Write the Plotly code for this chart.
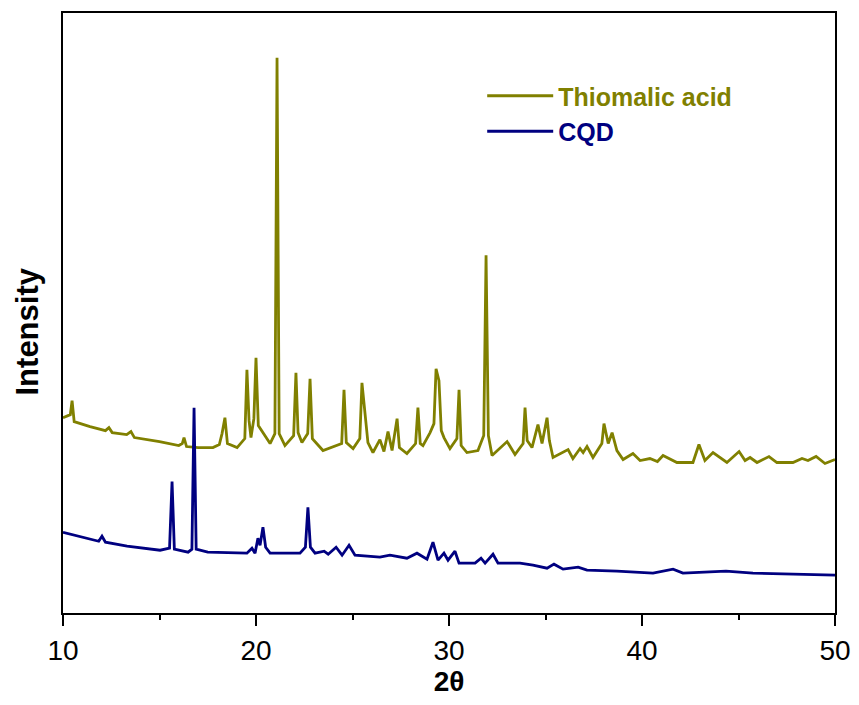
import plotly.graph_objects as go

# Thiomalic acid XRD trace (2θ, intensity a.u.)
thio_2theta = [10.00, 10.38, 10.47, 10.58, 11.40, 12.20, 12.38, 12.55, 13.30, 13.52, 13.70,
               15.00, 16.00, 16.18, 16.27, 16.40, 17.00, 17.77, 18.10, 18.24, 18.39, 18.52, 19.02,
               19.42, 19.53, 19.64, 19.74, 19.89, 20.00, 20.12, 20.73, 20.98, 21.09, 21.20,
               21.50, 21.95, 22.07, 22.18, 22.38, 22.68, 22.80, 22.92, 23.47, 24.44, 24.56,
               24.68, 25.03, 25.38, 25.49, 25.65, 25.80, 26.06, 26.42, 26.63, 26.84, 27.05,
               27.31, 27.43, 27.82, 28.27, 28.39, 28.51, 28.65, 29.02, 29.22, 29.33, 29.48,
               29.60, 29.74, 30.05, 30.41, 30.52, 30.63, 30.93, 31.50, 31.80, 31.92, 32.04,
               32.23, 33.01, 33.42, 33.84, 33.94, 34.05, 34.30, 34.61, 34.82, 35.08, 35.20,
               35.39, 36.17, 36.42, 36.79, 36.95, 37.15, 37.46, 37.92, 38.03, 38.25, 38.45,
               38.70, 39.02, 39.53, 39.90, 40.41, 40.80, 41.09, 41.81, 42.64, 42.95, 43.26,
               43.68, 44.40, 45.03, 45.34, 45.60, 45.96, 46.58, 46.99, 47.82, 48.29, 48.60,
               49.02, 49.48, 50.00]
thio_intensity = [196, 199, 213, 192, 187, 183, 186, 181, 179, 182, 176,
                  172, 168, 170, 176, 167, 166, 166, 169, 180, 196, 170, 166,
                  175, 244, 193, 176, 195, 256, 188, 170, 180, 557, 180,
                  168, 178, 241, 181, 171, 180, 235, 175, 163, 170, 224,
                  171, 165, 175, 231, 200, 171, 161, 174, 162, 182, 163,
                  195, 166, 160, 170, 206, 170, 168, 181, 190, 245, 233,
                  183, 176, 165, 175, 224, 168, 161, 163, 178, 359, 178,
                  158, 172, 159, 170, 206, 173, 166, 189, 170, 196, 173,
                  156, 164, 155, 165, 161, 167, 156, 170, 190, 170, 181,
                  163, 154, 160, 153, 155, 152, 158, 151, 151, 169, 153,
                  161, 151, 162, 153, 156, 151, 157, 151, 151, 155, 153,
                  157, 150, 154]

# CQD XRD trace (2θ, intensity a.u.)
cqd_2theta = [10.00, 10.88, 11.85, 12.02, 12.20, 13.32, 15.03, 15.52, 15.65, 15.77,
              16.48, 16.68, 16.79, 16.90, 17.50, 19.53, 19.79, 19.95, 20.10, 20.21, 20.36,
              20.50, 20.73, 22.28, 22.56, 22.69, 22.82, 23.06, 23.53, 23.74, 24.15, 24.46,
              24.82, 25.13, 26.42, 26.94, 27.82, 28.34, 28.86, 29.17, 29.43, 29.74, 29.95,
              30.31, 30.52, 31.35, 31.66, 31.87, 32.28, 32.54, 33.68, 34.35, 35.08, 35.44,
              35.91, 36.69, 37.15, 38.70, 40.57, 41.61, 42.12, 44.35, 45.75, 50.00]
cqd_intensity = [81, 77, 72, 77, 71, 67, 63, 65, 132, 64,
                 61, 64, 206, 64, 61, 60, 65, 60, 75, 68, 86,
                 66, 60, 60, 66, 106, 66, 60, 62, 59, 66, 58,
                 68, 58, 56, 58, 55, 60, 54, 71, 53, 60, 53,
                 62, 50, 50, 55, 50, 59, 50, 50, 48, 45, 49,
                 44, 46, 43, 42, 40, 44, 40, 42, 40, 38]

x_ticks = [10, 20, 30, 40, 50]
series_names = ["Thiomalic acid", "CQD"]
series_colors = ["#808000", "#000080"]

fig = go.Figure()
fig.add_trace(go.Scatter(
    x=thio_2theta, y=thio_intensity, mode="lines",
    name=f"<b><span style='color:{series_colors[0]}'>{series_names[0]}</span></b>",
    line=dict(color=series_colors[0], width=2.8)))
fig.add_trace(go.Scatter(
    x=cqd_2theta, y=cqd_intensity, mode="lines",
    name=f"<b><span style='color:{series_colors[1]}'>{series_names[1]}</span></b>",
    line=dict(color=series_colors[1], width=2.8)))

fig.update_layout(
    width=851, height=697,
    margin=dict(l=55, r=24, t=3, b=92),
    paper_bgcolor="white", plot_bgcolor="white",
    font=dict(family="Liberation Sans, Arial, sans-serif", color="black"),
    showlegend=True,
    legend=dict(x=0.543, y=0.9, xanchor="left", yanchor="top",
                bgcolor="rgba(0,0,0,0)", borderwidth=0,
                font=dict(size=25, family="Liberation Sans, Arial, sans-serif"),
                itemwidth=66, tracegroupgap=0),
    xaxis=dict(range=[10, 50], tickvals=x_ticks, ticktext=[str(v) for v in x_ticks],
               showline=True, linecolor="black", linewidth=2, mirror=True,
               ticks="outside", ticklen=11, tickwidth=2, tickcolor="black",
               minor=dict(dtick=5, tick0=10, ticks="outside", ticklen=5, tickwidth=2, tickcolor="black", showgrid=False),
               tickfont=dict(size=28), showgrid=False, zeroline=False,
               title=dict(text="<b>2θ</b>", font=dict(size=28), standoff=2)),
    yaxis=dict(range=[0, 602], showline=True, linecolor="black", linewidth=2, mirror=True,
               showticklabels=False, ticks="", showgrid=False, zeroline=False),
    annotations=[dict(text="<b>Intensity</b>", xref="paper", yref="paper",
                      x=-0.046, y=0.47, xanchor="center", yanchor="middle",
                      textangle=-90, showarrow=False, font=dict(size=31))],
)

fig.write_html("out.html")
